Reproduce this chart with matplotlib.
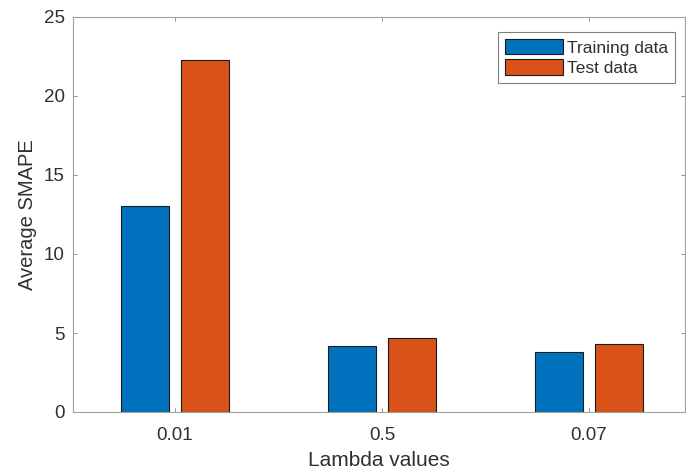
import numpy as np
import matplotlib
matplotlib.use("Agg")
import matplotlib.pyplot as plt

# values
lambdas = ["0.01", "0.5", "0.07"]
training = [13.05, 4.18, 3.80]
test = [22.28, 4.70, 4.30]

plt.rcParams['font.family'] = ['Liberation Sans', 'DejaVu Sans']

fig = plt.figure(figsize=(6.86, 4.74), dpi=100)
ax = fig.add_axes([73 / 686, 62 / 474, 612 / 686, 395 / 474])

x = np.arange(1, len(lambdas) + 1)
w = 0.232
off = 0.145
ax.bar(x - off, training, w, color='#0072BD', edgecolor='#1a1a1a', linewidth=0.8,
       label='Training data')
ax.bar(x + off, test, w, color='#D95319', edgecolor='#1a1a1a', linewidth=0.8,
       label='Test data')

ax.set_xlim(0.507, 3.464)
ax.set_ylim(0, 25)
ax.set_xticks(x)
ax.set_xticklabels(lambdas)
ax.set_yticks([0, 5, 10, 15, 20, 25])

txt = '#303030'
ax.tick_params(direction='in', length=3, width=0.6, colors='#808080',
               labelcolor=txt, labelsize=13.5, top=True, right=True)
ax.tick_params(axis='x', pad=11)
ax.tick_params(axis='y', pad=6)
for s in ax.spines.values():
    s.set_color('#a0a0a0')
    s.set_linewidth(0.8)

ax.set_xlabel('Lambda values', fontsize=15, color=txt, labelpad=5)
ax.set_ylabel('Average SMAPE', fontsize=14.5, color=txt, labelpad=5)

leg = ax.legend(loc='upper right', bbox_to_anchor=(0.984, 0.962), borderaxespad=0,
                fancybox=False, framealpha=1, edgecolor='#808080', fontsize=12.5,
                handlelength=3.33, handleheight=1.0, handletextpad=0.23,
                labelspacing=0.22, borderpad=0.4)
leg.get_frame().set_linewidth(0.8)
for t in leg.get_texts():
    t.set_color(txt)

fig.savefig('out.png', dpi=100)
